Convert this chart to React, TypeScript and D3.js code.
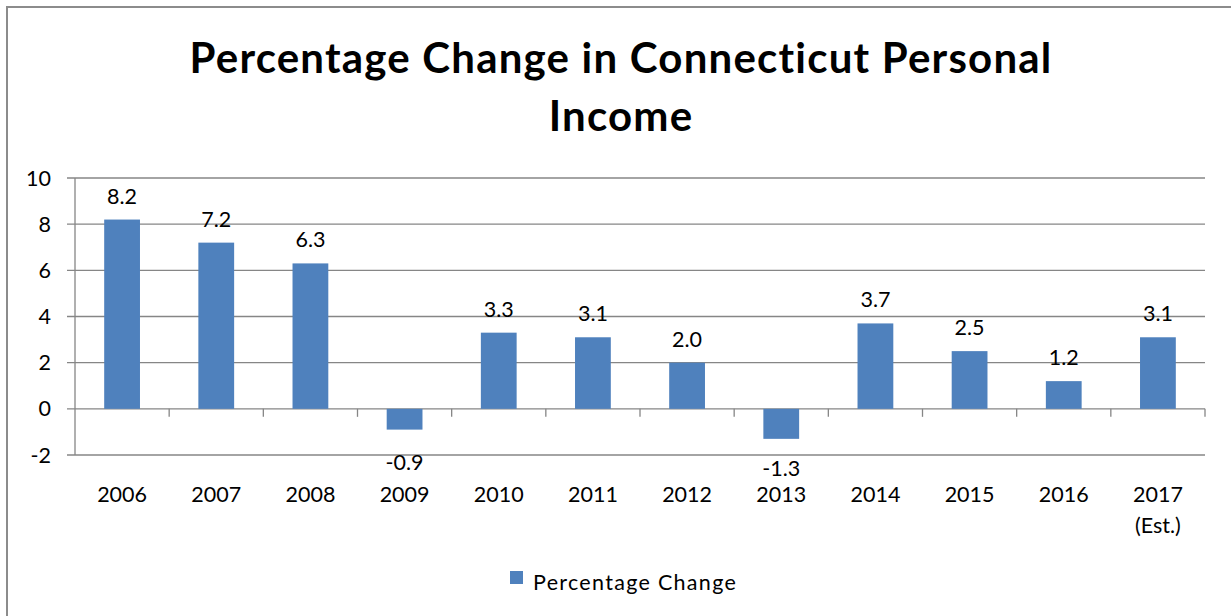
import React from "react";
import * as d3 from "d3";

const categories = ["2006", "2007", "2008", "2009", "2010", "2011", "2012", "2013", "2014", "2015", "2016", "2017\n(Est.)"];
const values = [8.2, 7.2, 6.3, -0.9, 3.3, 3.1, 2.0, -1.3, 3.7, 2.5, 1.2, 3.1];
const yTicks = [-2, 0, 2, 4, 6, 8, 10];
const titleLines = ["Percentage Change in Connecticut Personal", "Income"];
const seriesName = "Percentage Change";

const W = 1231;
const H = 616;
const plot = { left: 75, right: 1205, top: 178, bottom: 455 };
const font = "Lato, 'Open Sans', sans-serif";
const barColor = "#4F81BD";
const gridColor = "#868686";

export default function App() {
  const x = d3.scaleBand<string>().domain(categories).range([plot.left, plot.right]).paddingInner(0.62).paddingOuter(0.31);
  const y = d3.scaleLinear().domain([-2, 10]).range([plot.bottom, plot.top]);
  const step = x.step();
  const y0 = y(0);

  return (
    <svg width={W} height={H} style={{ position: "absolute", left: 0, top: 0, background: "#fff" }} fontFamily={font}>
      <rect x={7} y={7} width={W + 20} height={H + 20} fill="#fff" stroke="#8c8c8c" strokeWidth={2} />
      {titleLines.map((t, i) => (
        <text key={i} x={621} y={73 + i * 58} textAnchor="middle" fontSize={42} fontWeight={700} letterSpacing={1.2} fill="#000">
          {t}
        </text>
      ))}
      {yTicks.map((v) => (
        <g key={v}>
          <line x1={plot.left - 8} x2={plot.right} y1={y(v)} y2={y(v)} stroke={gridColor} strokeWidth={1.3} />
          <text x={51} y={y(v) + 7.5} textAnchor="end" fontSize={21.5} fill="#000">
            {v}
          </text>
        </g>
      ))}
      <line x1={plot.left} x2={plot.left} y1={plot.top} y2={plot.bottom} stroke={gridColor} strokeWidth={1.3} />
      {categories.map((c, i) => {
        const xr = plot.left + step * (i + 1);
        return <line key={"t" + i} x1={xr} x2={xr} y1={y0} y2={y0 + 8} stroke={gridColor} strokeWidth={1.3} />;
      })}
      {categories.map((c, i) => {
        const v = values[i];
        const bx = x(c)!;
        const bw = x.bandwidth();
        const top = v >= 0 ? y(v) : y0;
        const h = Math.abs(y(v) - y0);
        const cx = bx + bw / 2;
        const ly = v >= 0 ? y(v) - 16 : Math.min(y(v) + 40, 476);
        return (
          <g key={c}>
            <rect x={bx} y={top} width={bw} height={h} fill={barColor} />
            <text x={cx} y={ly} textAnchor="middle" fontSize={21.5} fill="#000">
              {v.toFixed(1)}
            </text>
            {c.split("\n").map((line, j) => (
              <text key={j} x={cx} y={502 + j * 31} textAnchor="middle" fontSize={21.5} fill="#000">
                {line}
              </text>
            ))}
          </g>
        );
      })}
      <rect x={510} y={571} width={13} height={13} fill={barColor} />
      <text x={533} y={590} fontSize={21.5} letterSpacing={1.3} fill="#000">
        {seriesName}
      </text>
    </svg>
  );
}
